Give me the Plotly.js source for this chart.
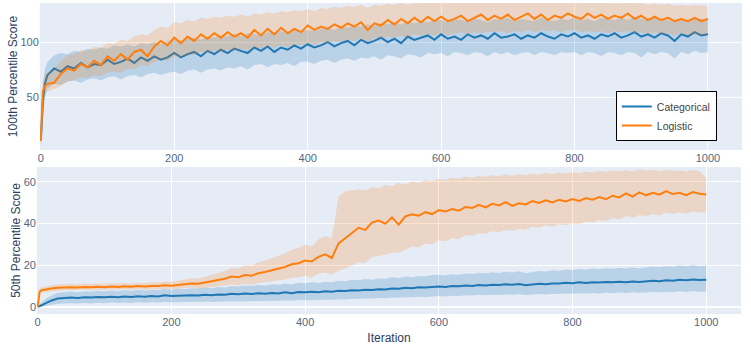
<!DOCTYPE html>
<html>
<head>
<meta charset="utf-8">
<script src="https://cdn.plot.ly/plotly-3.0.1.min.js"></script>
<style>
  html, body { margin: 0; padding: 0; background: #fff; }
  #plot { width: 751px; height: 362px; }
</style>
</head>
<body>
<div id="plot"></div>
<script>
var iters = [0, 3, 6, 10, 20, 30, 40, 50, 60, 70, 80, 90, 100, 110, 120, 130, 140, 150, 160, 170, 180, 190,
  200, 210, 220, 230, 240, 250, 260, 270, 280, 290, 300, 310, 320, 330, 340, 350, 360, 370, 380, 390,
  400, 410, 420, 430, 440, 450, 460, 470, 480, 490, 500, 510, 520, 530, 540, 550, 560, 570, 580, 590,
  600, 610, 620, 630, 640, 650, 660, 670, 680, 690, 700, 710, 720, 730, 740, 750, 760, 770, 780, 790,
  800, 810, 820, 830, 840, 850, 860, 870, 880, 890, 900, 910, 920, 930, 940, 950, 960, 970, 980, 990, 1000];

// 100th percentile, categorical
var catTop = [10, 45, 62, 70, 76, 73, 78, 76, 81, 77, 80, 79, 84, 80, 82, 85, 81, 86, 83, 87, 84, 86,
  90, 86, 89, 91, 87, 92, 89, 93, 90, 94, 92, 90, 95, 92, 96, 91, 95, 93, 97, 94,
  98, 95, 97, 100, 96, 99, 101, 97, 102, 99, 101, 104, 100, 103, 99, 105, 102, 104, 106, 102,
  107, 103, 105, 102, 107, 104, 106, 103, 108, 104, 105, 107, 103, 106, 104, 108, 105, 103, 107, 105,
  108, 104, 106, 103, 107, 105, 108, 104, 106, 109, 105, 107, 104, 108, 106, 101, 107, 105, 109, 106, 107];
var catTopLo = [5, 30, 50, 58, 62, 61, 64, 65, 63, 66, 67, 65, 68, 69, 66, 69, 70, 68, 71, 72, 70, 72,
  73, 71, 74, 75, 72, 75, 76, 74, 77, 76, 78, 75, 79, 80, 77, 80, 79, 81, 78, 82,
  82, 80, 83, 84, 81, 84, 85, 83, 86, 85, 87, 84, 88, 87, 85, 89, 88, 86, 90, 89,
  90, 87, 91, 90, 88, 91, 90, 87, 91, 89, 91, 88, 90, 91, 88, 91, 90, 88, 91, 90,
  91, 88, 91, 90, 87, 91, 90, 88, 91, 90, 86, 91, 89, 91, 90, 85, 91, 89, 92, 90, 91];
var catTopHi = [15, 60, 75, 82, 88, 90, 89, 92, 91, 94, 93, 95, 94, 97, 96, 98, 96, 99, 98, 100, 98, 101,
  102, 101, 103, 104, 102, 105, 104, 106, 105, 107, 105, 108, 107, 106, 109, 108, 110, 108, 111, 110,
  111, 110, 112, 113, 111, 114, 113, 115, 114, 116, 115, 117, 116, 118, 116, 119, 117, 119, 118, 120,
  120, 118, 121, 120, 119, 121, 120, 118, 121, 120, 122, 119, 121, 120, 119, 122, 120, 119, 121, 120,
  122, 120, 121, 119, 122, 121, 120, 122, 120, 123, 121, 120, 122, 121, 120, 118, 121, 120, 122, 121, 121];

// 100th percentile, logistic
var logTop = [10, 55, 60, 62, 63, 71, 76, 74, 80, 77, 83, 79, 87, 83, 89, 84, 91, 93, 87, 96, 101, 97,
  104, 99, 105, 101, 107, 103, 108, 104, 109, 105, 108, 104, 111, 106, 112, 107, 113, 108, 112, 109,
  115, 111, 114, 112, 116, 113, 117, 114, 118, 111, 117, 115, 120, 116, 121, 117, 122, 118, 123, 119,
  123, 119, 121, 124, 119, 122, 125, 120, 124, 121, 125, 120, 123, 126, 121, 125, 120, 124, 122, 126,
  123, 121, 126, 122, 125, 121, 124, 122, 126, 121, 124, 120, 123, 120, 122, 119, 121, 119, 122, 119, 121];
var logTopLo = [5, 45, 52, 55, 57, 60, 64, 65, 68, 67, 70, 69, 72, 73, 72, 76, 75, 79, 78, 82, 84, 83,
  87, 86, 89, 88, 91, 90, 92, 91, 93, 92, 94, 92, 95, 94, 96, 95, 97, 95, 98, 97,
  99, 97, 100, 99, 101, 100, 102, 101, 103, 100, 104, 103, 105, 104, 106, 104, 107, 106, 107, 106,
  108, 106, 108, 109, 107, 109, 108, 110, 109, 110, 108, 110, 109, 111, 109, 111, 110, 111, 109, 111,
  111, 109, 110, 109, 110, 108, 110, 109, 110, 108, 109, 107, 109, 107, 108, 106, 108, 106, 107, 106, 107];
var logTopHi = [15, 65, 70, 72, 75, 83, 88, 89, 93, 92, 96, 95, 99, 98, 102, 101, 105, 107, 106, 111, 114, 113,
  118, 117, 120, 119, 122, 121, 123, 122, 124, 123, 125, 123, 126, 125, 127, 126, 128, 127, 129, 128,
  130, 128, 131, 130, 132, 131, 133, 132, 134, 131, 134, 133, 135, 134, 136, 134, 136, 135, 137, 136,
  137, 135, 136, 138, 136, 137, 138, 136, 137, 136, 138, 136, 137, 138, 136, 138, 136, 137, 136, 138,
  137, 135, 137, 136, 137, 135, 136, 135, 137, 135, 136, 134, 135, 134, 135, 133, 134, 133, 134, 133, 133];

// 50th percentile, categorical
var catMid = [0, 0.3, 0.8, 1.5, 3, 4, 4.2, 4.5, 4.3, 4.6, 4.5, 4.8, 4.6, 4.9, 4.7, 5, 4.8, 5.1, 4.9, 5.2, 5, 5.6,
  5.2, 5.4, 5.3, 5.6, 5.5, 5.8, 5.6, 6, 5.8, 6.3, 6.1, 6.4, 6.2, 6.6, 6.3, 6.7, 6.5, 7, 6.6, 7.2,
  7, 7.3, 7.1, 7.5, 7.3, 7.8, 7.6, 8, 7.9, 8.3, 8.1, 8.5, 8.4, 8.9, 8.7, 9.2, 9, 9.4, 9.3, 9.7,
  9.8, 9.6, 10, 9.9, 10.3, 10.1, 10.5, 10.3, 10.7, 10.5, 10.9, 10.6, 11, 10.4, 10.8, 11.1, 10.9, 11.3, 11.2, 11.6,
  11.4, 11.8, 11.5, 11.9, 11.7, 12, 11.8, 12.1, 11.9, 12.2, 12, 12.4, 12.6, 12.3, 12.8, 12.6, 13.1, 12.8, 13.2, 12.9, 13];
var catMidLo = [0, 0, 0, 0.3, 1, 1.5, 1.6, 1.8, 1.6, 1.9, 1.7, 2, 1.8, 2.1, 1.9, 2.1, 1.9, 2.2, 2, 2.3, 2.1, 2.4,
  2.2, 2.3, 2.2, 2.4, 2.3, 2.5, 2.4, 2.6, 2.5, 2.7, 2.6, 2.8, 2.7, 2.9, 2.8, 3, 2.9, 3.1, 3, 3.3,
  3.2, 3.4, 3.3, 3.5, 3.4, 3.7, 3.6, 3.9, 3.8, 4.1, 4, 4.3, 4.2, 4.5, 4.4, 4.7, 4.6, 4.9, 4.8, 5.1,
  5.2, 5, 5.4, 5.3, 5.6, 5.5, 5.8, 5.6, 5.9, 5.7, 6, 5.8, 6.1, 5.7, 6, 6.2, 6, 6.3, 6.2, 6.5,
  6.3, 6.6, 6.4, 6.7, 6.5, 6.8, 6.6, 6.9, 6.7, 7, 6.8, 7.1, 7.2, 7, 7.3, 7.1, 7.5, 7.2, 7.6, 7.3, 7.4];
var catMidHi = [0.5, 1.5, 2.5, 3.5, 5.5, 6.8, 7, 7.4, 7.1, 7.5, 7.4, 7.8, 7.5, 7.9, 7.6, 8, 7.8, 8.2, 7.9, 8.3, 8.1, 8.9,
  8.4, 8.7, 8.5, 9, 8.8, 9.3, 9, 9.6, 9.3, 10, 9.8, 10.3, 10, 10.6, 10.2, 10.9, 10.6, 11.3, 10.8, 11.6,
  11.4, 11.8, 11.5, 12.1, 11.8, 12.6, 12.3, 13, 12.8, 13.4, 13.1, 13.7, 13.5, 14.2, 13.9, 14.6, 14.3, 14.9, 14.7, 15.3,
  15.4, 15.1, 15.7, 15.5, 16.1, 15.8, 16.4, 16.1, 16.7, 16.3, 16.9, 16.5, 17.1, 16.2, 16.8, 17.3, 17, 17.6, 17.4, 18,
  17.7, 18.3, 17.9, 18.5, 18.2, 18.6, 18.3, 18.8, 18.4, 18.9, 18.6, 19.1, 19.4, 19, 19.6, 19.3, 20, 19.5, 20.1, 19.6, 19.8];

// 50th percentile, logistic
var logMid = [0, 7.5, 8, 8.3, 8.8, 9.2, 9.4, 9.5, 9.3, 9.6, 9.4, 9.7, 9.5, 9.8, 9.6, 9.9, 9.7, 10, 9.8, 10.1, 10, 10.4,
  10.2, 10.6, 10.9, 11.3, 11.1, 11.8, 12.3, 12.9, 13.5, 14.6, 14.2, 15.3, 15, 16.2, 16.8, 17.5, 18.4, 19.2, 20.5, 21,
  22.3, 21.8, 24, 25.3, 23.5, 30.5, 33, 35.5, 38, 37, 40.5, 41.5, 40, 43, 39.5, 43.5, 44.5, 43.8, 45.5, 44.6,
  46.5, 45.8, 47, 46.2, 48, 47.5, 49, 47.8, 49.5, 48.7, 50.3, 48.5, 49.8, 49.2, 50.8, 49.9, 51.2, 50.2, 51.5, 50.6,
  51.8, 50.9, 52.3, 51.5, 52.8, 51.7, 53.4, 52.6, 54.5, 53, 55, 53.6, 54.8, 53.9, 55.6, 54.2, 54.8, 53.7, 55.2, 54.3, 54];
var logMidLo = [0, 6, 6.8, 7, 7.4, 7.8, 8, 8.1, 7.9, 8.2, 8, 8.3, 8.1, 8.4, 8.2, 8.5, 8.3, 8.6, 8.3, 8.6, 8.5, 8.8,
  8.6, 8.9, 9, 9.2, 8.9, 9.4, 9.6, 9.9, 10.2, 10.8, 10.4, 11, 10.6, 11.5, 11.8, 12.2, 12.8, 13.2, 14, 14.2,
  15, 14, 16, 16.5, 15.5, 17.5, 18.5, 20, 21.5, 21, 24, 24.5, 25, 26, 26, 27.5, 29, 28.5, 30.5, 30,
  32, 31.5, 33, 32.5, 34.5, 34, 35.5, 35, 36.5, 35.8, 37, 36.5, 37.5, 37, 38.5, 38, 39.2, 38.5, 39.8, 39.2,
  40.2, 39.6, 41, 40.5, 41.8, 41.2, 42.6, 42, 43.5, 42.8, 44.2, 43.5, 44.6, 44, 45.3, 44.6, 45.4, 44.8, 45.8, 45.2, 46];
var logMidHi = [0.5, 9, 9.4, 9.7, 10.3, 10.8, 11, 11.1, 10.9, 11.2, 11, 11.3, 11.1, 11.4, 11.2, 11.5, 11.3, 11.6, 11.4, 11.8, 11.7, 12.2,
  12, 12.6, 13.1, 13.8, 13.6, 14.6, 15.4, 16.3, 17.2, 18.8, 18.4, 20, 19.8, 21.4, 22.3, 23.3, 24.5, 25.6, 27.4, 28.3,
  30, 29, 32.5, 34, 33, 53, 55.5, 56, 56.5, 56, 57.5, 57, 58.5, 58, 59.5, 58.8, 60.2, 59.6, 61, 60.4,
  61.5, 61, 62, 61.6, 62.6, 62, 63, 62.5, 63.3, 62.8, 63.6, 63, 63.8, 63.2, 64, 63.5, 64.3, 63.7, 64.6, 64,
  64.8, 64.2, 65, 64.5, 65.3, 64.8, 65.5, 65, 65.8, 65.2, 66, 65.4, 65.8, 65.2, 66, 65.4, 65.6, 65, 65.8, 65.2, 62];

var blue = "#1f77b4";
var orange = "#ff7f0e";
var blueFill = "rgba(31,119,180,0.22)";
var orangeFill = "rgba(255,127,14,0.2)";

function series(mean, lo, hi, color, fill, name, legend, xa, ya) {
  return [
    { x: iters, y: lo, type: "scatter", mode: "lines", line: { width: 0 },
      showlegend: false, hoverinfo: "skip", xaxis: xa, yaxis: ya },
    { x: iters, y: hi, type: "scatter", mode: "lines", line: { width: 0 }, fill: "tonexty",
      fillcolor: fill, showlegend: false, hoverinfo: "skip", xaxis: xa, yaxis: ya },
    { x: iters, y: mean, type: "scatter", mode: "lines", name: name,
      showlegend: legend, line: { color: color, width: 2 }, xaxis: xa, yaxis: ya }
  ];
}

var data = []
  .concat(series(catTop, catTopLo, catTopHi, blue, blueFill, "Categorical", true, "x", "y"))
  .concat(series(logTop, logTopLo, logTopHi, orange, orangeFill, "Logistic", true, "x", "y"))
  .concat(series(catMid, catMidLo, catMidHi, blue, blueFill, "Categorical", false, "x2", "y2"))
  .concat(series(logMid, logMidLo, logMidHi, orange, orangeFill, "Logistic", false, "x2", "y2"));

var fontFam = "Liberation Sans, Arial, sans-serif";
var tickFont = { family: fontFam, size: 11, color: "#506784" };
var titleFont = { family: fontFam, size: 12, color: "#2a3f5f" };

var layout = {
  width: 751,
  height: 362,
  margin: { l: 37, r: 9, t: 3, b: 48 },
  paper_bgcolor: "#ffffff",
  plot_bgcolor: "#E5ECF6",
  font: { family: fontFam, size: 11, color: "#2a3f5f" },
  showlegend: true,
  legend: {
    x: 0.821, y: 0.637, xanchor: "left", yanchor: "middle",
    bgcolor: "#ffffff", bordercolor: "#000000", borderwidth: 1,
    traceorder: "normal", tracegroupgap: 0,
    font: { family: fontFam, size: 10.5, color: "#444" }
  },
  xaxis: {
    domain: [0.004, 1], range: [-1.5, 1051], anchor: "y",
    gridcolor: "#ffffff", zeroline: false, tickvals: [0, 200, 400, 600, 800, 1000],
    tickfont: tickFont, ticks: ""
  },
  yaxis: {
    domain: [0.5273, 1], range: [1.8, 135.5], anchor: "x",
    gridcolor: "#ffffff", zeroline: false, tickvals: [50, 100],
    tickfont: tickFont,
    title: { text: "100th Percentile Score", font: titleFont, standoff: 0 }
  },
  xaxis2: {
    domain: [0, 0.9986], range: [-1, 1052], anchor: "y2",
    gridcolor: "#ffffff", zeroline: false, tickvals: [0, 200, 400, 600, 800, 1000],
    tickfont: tickFont,
    title: { text: "Iteration", font: titleFont, standoff: 6 }
  },
  yaxis2: {
    domain: [0, 0.4727], range: [-3.4, 67.2], anchor: "x2",
    gridcolor: "#ffffff", zeroline: true, zerolinecolor: "#ffffff", zerolinewidth: 2,
    tickvals: [0, 20, 40, 60],
    tickfont: tickFont,
    title: { text: "50th Percentile Score", font: titleFont, standoff: 0 }
  }
};

Plotly.newPlot("plot", data, layout, { displayModeBar: false, staticPlot: true });
</script>
</body>
</html>
